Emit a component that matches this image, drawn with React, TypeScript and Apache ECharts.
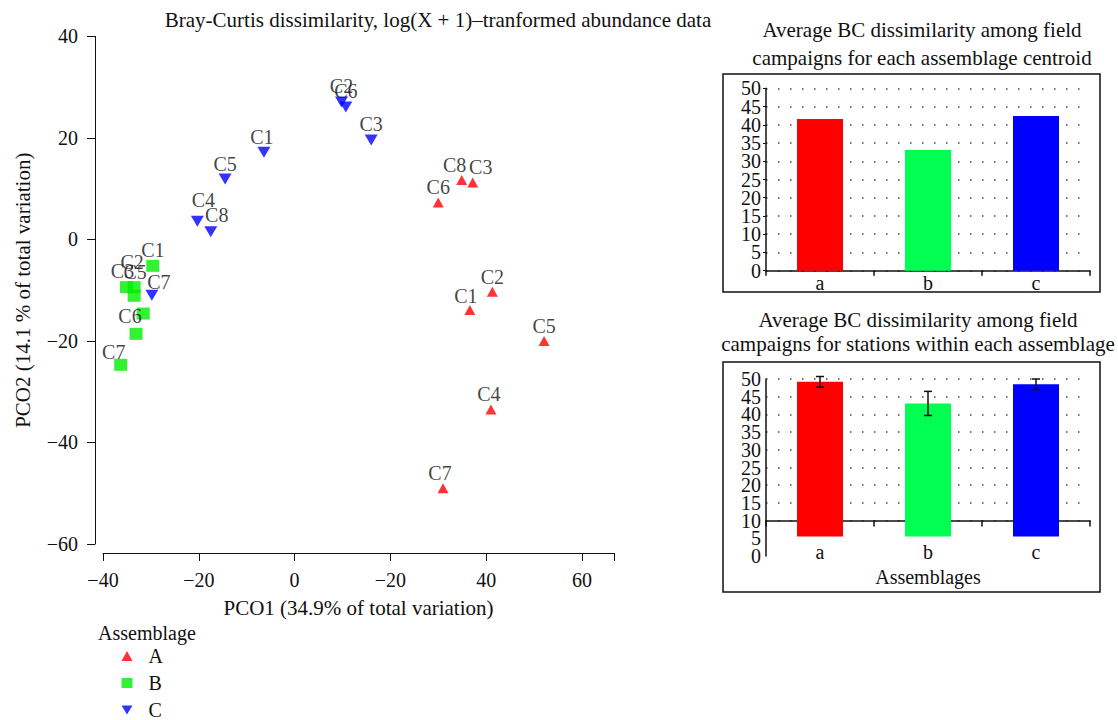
import React, { useEffect, useRef } from "react";
import * as echarts from "echarts";

const FONT = "'Liberation Serif', 'Times New Roman', serif";
const INK = "#111111";

// ---- PCO ordination (scatter) ----
const A_NAMES = ["C1", "C2", "C3", "C4", "C5", "C6", "C7", "C8"];
const A_PCO1 = [36.6, 41.3, 37.2, 41.0, 52.1, 30.0, 31.0, 34.9];
const A_PCO2 = [-13.9, -10.3, 11.2, -33.5, -20.0, 7.3, -49.0, 11.7];

const B_NAMES = ["C1", "C2", "C3", "C4", "C5", "C6", "C7"];
const B_PCO1 = [-29.6, -33.5, -35.1, -31.6, -33.5, -33.1, -36.3];
const B_PCO2 = [-5.2, -9.4, -9.4, -14.6, -11.1, -18.6, -24.7];

const C_NAMES = ["C1", "C2", "C3", "C4", "C5", "C6", "C7", "C8"];
const C_PCO1 = [-6.4, 9.8, 16.0, -20.3, -14.5, 10.7, -29.8, -17.5];
const C_PCO2 = [17.2, 27.1, 19.6, 3.6, 11.9, 26.1, -11.0, 1.5];

const X_TICKS = [-40, -20, 0, 20, 40, 60];
const X_TICK_LABELS = ["\u221240", "\u221220", "0", "\u221220", "40", "60"];
const Y_TICKS = [-60, -40, -20, 0, 20, 40];
const Y_TICK_LABELS = ["\u221260", "\u221240", "\u221220", "0", "20", "40"];
const X_MIN = -40;
const X_MAX = 66.7;
const Y_MIN = -60;
const Y_MAX = 40;

// ---- Bar panels ----
const GROUPS = ["a", "b", "c"];
const CENTROID_BC = [41.6, 33.1, 42.4];
const STATION_BC = [49.2, 43.1, 48.5];
const STATION_BC_ERR = [1.5, 3.4, 1.5];
const STATION_BAR_BASE = 5.5;
const STATION_GRID_TICKS = [10, 15, 20, 25, 30, 35, 40, 45, 50];
const BAR_LABELS_EVEN = [0, 10, 20, 30, 40, 50];
const BAR_LABELS_ODD = [5, 15, 25, 35, 45];

const BAR_COLORS = ["#ff0000", "#00ff50", "#0000ff"];
const GROUP_COLORS = ["#ff0000", "#00ee00", "#0000ff"];

// label nudges (style only)
const NUDGE: Record<string, [number, number]> = {
  "A-C1": [-4, 1],
  "A-C3": [8, -1],
  "A-C8": [-7, 0],
  "A-C4": [-2, 0],
  "A-C7": [-3, 0],
  "B-C2": [-2, -9],
  "B-C3": [-4, 0],
  "B-C5": [1, -8],
  "B-C6": [-6, -2],
  "B-C7": [-7, 3],
  "C-C4": [6, -6],
  "C-C8": [6, -1],
  "C-C7": [7, 2],
  "C-C1": [-2, 0],
};
const HIDDEN = new Set(["B-C4"]);

function pts(key: string, names: string[], xs: number[], ys: number[]) {
  return names.map((n, i) => {
    const id = key + "-" + n;
    const item: any = { name: n, value: [xs[i], ys[i]] };
    if (HIDDEN.has(id)) item.label = { show: false };
    else if (NUDGE[id]) item.label = { offset: NUDGE[id] };
    return item;
  });
}

const fmtTick = (ticks: number[], labels: string[]) => (v: number) => {
  const i = ticks.findIndex((t) => Math.abs(t - v) < 1e-6);
  return i >= 0 ? labels[i] : "";
};

export default function App() {
  const ref = useRef<HTMLDivElement>(null);
  useEffect(() => {
    if (!ref.current) return;
    const chart = echarts.init(ref.current, undefined, { renderer: "svg" });

    const txt = { color: INK, fontFamily: FONT, fontSize: 20 };
    const big = { color: INK, fontFamily: FONT, fontSize: 21 };
    const scatterLabel = {
      show: true,
      formatter: "{b}",
      position: "top",
      distance: 0,
      ...txt,
    };
    const dotted = { show: true, lineStyle: { color: "#444", width: 1.5, type: [1.5, 10.5] } };

    const topBarH = 182.4;
    const botBarH = 177;

    // value axis for a bar panel; labels split into two axes so none get hidden
    const barY = (gridIndex: number, labels: number[], main: boolean, extra: any = {}) => ({
      type: "value",
      gridIndex,
      min: 0,
      max: 50,
      interval: 5,
      position: "left",
      axisLine: { show: main, lineStyle: { color: INK, width: 1.5 } },
      axisTick: { show: false },
      axisLabel: { margin: 5, customValues: labels, showMinLabel: true, showMaxLabel: true, ...txt },
      splitLine: { show: false },
      ...extra,
    });

    const option: any = {
      animation: false,
      backgroundColor: "#ffffff",
      textStyle: { fontFamily: FONT, color: INK },
      grid: [
        { left: 103, top: 36.4, width: 511, height: 507.6 },
        { left: 766, top: 88.3, width: 324, height: topBarH },
        { left: 766, top: 379, width: 324, height: botBarH },
      ],
      xAxis: [
        {
          type: "value",
          gridIndex: 0,
          min: X_MIN,
          max: X_MAX,
          position: "bottom",
          offset: 9,
          axisLine: { show: true, onZero: false, lineStyle: { color: INK, width: 1 } },
          axisTick: { show: true, length: 8, customValues: [...X_TICKS, X_MAX], lineStyle: { color: INK } },
          axisLabel: { customValues: X_TICKS, formatter: fmtTick(X_TICKS, X_TICK_LABELS), margin: 17, ...txt },
          splitLine: { show: false },
          name: "PCO1 (34.9% of total variation)",
          nameLocation: "middle",
          nameGap: 44,
          nameTextStyle: big,
        },
        {
          type: "category",
          gridIndex: 1,
          data: GROUPS,
          axisLine: { show: true, lineStyle: { color: INK, width: 1.5 } },
          axisTick: { show: true, length: 5, lineStyle: { color: INK, width: 1.5 } },
          axisLabel: { margin: 2, ...txt },
        },
        {
          type: "category",
          gridIndex: 2,
          data: GROUPS,
          offset: -(10 / 50) * botBarH,
          axisLine: { show: true, onZero: false, lineStyle: { color: INK, width: 1.5 } },
          axisTick: { show: true, length: 6, lineStyle: { color: INK, width: 1.5 } },
          axisLabel: { margin: 21, ...txt },
          name: "Assemblages",
          nameLocation: "middle",
          nameGap: 46,
          nameTextStyle: txt,
        },
      ],
      yAxis: [
        {
          type: "value",
          gridIndex: 0,
          min: Y_MIN,
          max: Y_MAX,
          position: "left",
          offset: 8,
          axisLine: { show: true, onZero: false, lineStyle: { color: INK, width: 1 } },
          axisTick: { show: true, length: 8, customValues: Y_TICKS, lineStyle: { color: INK } },
          axisLabel: { customValues: Y_TICKS, formatter: fmtTick(Y_TICKS, Y_TICK_LABELS), margin: 17, ...txt },
          splitLine: { show: false },
          name: "PCO2 (14.1 % of total variation)",
          nameLocation: "middle",
          nameGap: 62,
          nameTextStyle: big,
        },
        barY(1, BAR_LABELS_EVEN, true, {
          axisTick: { show: true, length: 3, lineStyle: { color: INK } },
          splitLine: dotted,
        }),
        barY(2, BAR_LABELS_EVEN, true, {
          axisTick: { show: false, customValues: STATION_GRID_TICKS },
          splitLine: dotted,
        }),
        barY(1, BAR_LABELS_ODD, false),
        barY(2, BAR_LABELS_ODD, false),
      ],
      legend: {
        orient: "vertical",
        left: 121.5,
        top: 646,
        height: 140,
        padding: 0,
        itemWidth: 11,
        itemHeight: 10,
        itemGap: 7,
        data: [
          { name: "A", icon: "triangle" },
          { name: "B", icon: "rect" },
          { name: "C", icon: "path://M0,0L11,0L5.5,9Z" },
        ],
        textStyle: { ...txt, padding: [0, 0, 0, 11] },
      },
      graphic: [
        {
          type: "text",
          x: 438,
          y: 20,
          style: {
            text: "Bray-Curtis dissimilarity, log(X + 1)\u2013tranformed abundance data",
            fill: INK,
            font: `21px ${FONT}`,
            align: "center",
            verticalAlign: "middle",
          },
        },
        {
          type: "text",
          x: 922,
          y: 44,
          style: {
            text: "Average BC dissimilarity among field\ncampaigns for each assemblage centroid",
            fill: INK,
            font: `21px ${FONT}`,
            lineHeight: 28,
            align: "center",
            verticalAlign: "middle",
          },
        },
        {
          type: "text",
          x: 918,
          y: 332,
          style: {
            text: "Average BC dissimilarity among field\ncampaigns for stations within each assemblage",
            fill: INK,
            font: `21px ${FONT}`,
            lineHeight: 24,
            align: "center",
            verticalAlign: "middle",
          },
        },
        {
          type: "text",
          x: 98,
          y: 633,
          style: {
            text: "Assemblage",
            fill: INK,
            font: `20px ${FONT}`,
            align: "left",
            verticalAlign: "middle",
          },
        },
        {
          type: "rect",
          shape: { x: 723, y: 74, width: 377, height: 218 },
          style: { fill: "none", stroke: INK, lineWidth: 1.5 },
          silent: true,
        },
        {
          type: "rect",
          shape: { x: 723, y: 362, width: 377, height: 230 },
          style: { fill: "none", stroke: INK, lineWidth: 1.5 },
          silent: true,
        },
      ],
      series: [
        {
          name: "A",
          type: "scatter",
          xAxisIndex: 0,
          yAxisIndex: 0,
          symbol: "triangle",
          symbolSize: [11, 10],
          itemStyle: { color: GROUP_COLORS[0] },
          label: scatterLabel,
          data: pts("A", A_NAMES, A_PCO1, A_PCO2),
        },
        {
          name: "B",
          type: "scatter",
          xAxisIndex: 0,
          yAxisIndex: 0,
          symbol: "rect",
          symbolSize: [13, 12],
          itemStyle: { color: GROUP_COLORS[1] },
          label: scatterLabel,
          data: pts("B", B_NAMES, B_PCO1, B_PCO2),
        },
        {
          name: "C",
          type: "scatter",
          xAxisIndex: 0,
          yAxisIndex: 0,
          symbol: "triangle",
          symbolRotate: 180,
          symbolSize: [13, 11],
          itemStyle: { color: GROUP_COLORS[2] },
          label: scatterLabel,
          data: pts("C", C_NAMES, C_PCO1, C_PCO2),
        },
        {
          name: "Centroid BC",
          type: "bar",
          xAxisIndex: 1,
          yAxisIndex: 1,
          barWidth: 46,
          data: CENTROID_BC.map((v, i) => ({ value: v, itemStyle: { color: BAR_COLORS[i] } })),
        },
        {
          name: "Station BC",
          type: "custom",
          xAxisIndex: 2,
          yAxisIndex: 2,
          renderItem: (params: any, api: any) => {
            const i = api.value(0);
            const v = api.value(1);
            const top = api.coord([i, v]);
            const base = api.coord([i, STATION_BAR_BASE]);
            const w = 46;
            return {
              type: "rect",
              shape: { x: top[0] - w / 2, y: top[1], width: w, height: base[1] - top[1] },
              style: { fill: BAR_COLORS[i] },
            };
          },
          encode: { x: 0, y: 1 },
          data: GROUPS.map((g, i) => [i, STATION_BC[i]]),
          z: 2,
        },
        {
          name: "Station BC error",
          type: "custom",
          xAxisIndex: 2,
          yAxisIndex: 2,
          renderItem: (params: any, api: any) => {
            const i = api.value(0);
            const lo = api.coord([i, api.value(1)]);
            const hi = api.coord([i, api.value(2)]);
            const cap = 4;
            const st = { stroke: "#111", lineWidth: 1.5 };
            return {
              type: "group",
              children: [
                { type: "line", shape: { x1: lo[0], y1: lo[1], x2: hi[0], y2: hi[1] }, style: st },
                { type: "line", shape: { x1: lo[0] - cap, y1: lo[1], x2: lo[0] + cap, y2: lo[1] }, style: st },
                { type: "line", shape: { x1: hi[0] - cap, y1: hi[1], x2: hi[0] + cap, y2: hi[1] }, style: st },
              ],
            };
          },
          encode: { x: 0, y: [1, 2] },
          data: GROUPS.map((g, i) => [i, STATION_BC[i] - STATION_BC_ERR[i], STATION_BC[i] + STATION_BC_ERR[i]]),
          z: 3,
        },
      ],
    };

    chart.setOption(option);
    return () => chart.dispose();
  }, []);

  return (
    <div
      ref={ref}
      style={{ position: "fixed", left: 0, top: 0, width: 1118, height: 720, background: "#fff" }}
    />
  );
}
